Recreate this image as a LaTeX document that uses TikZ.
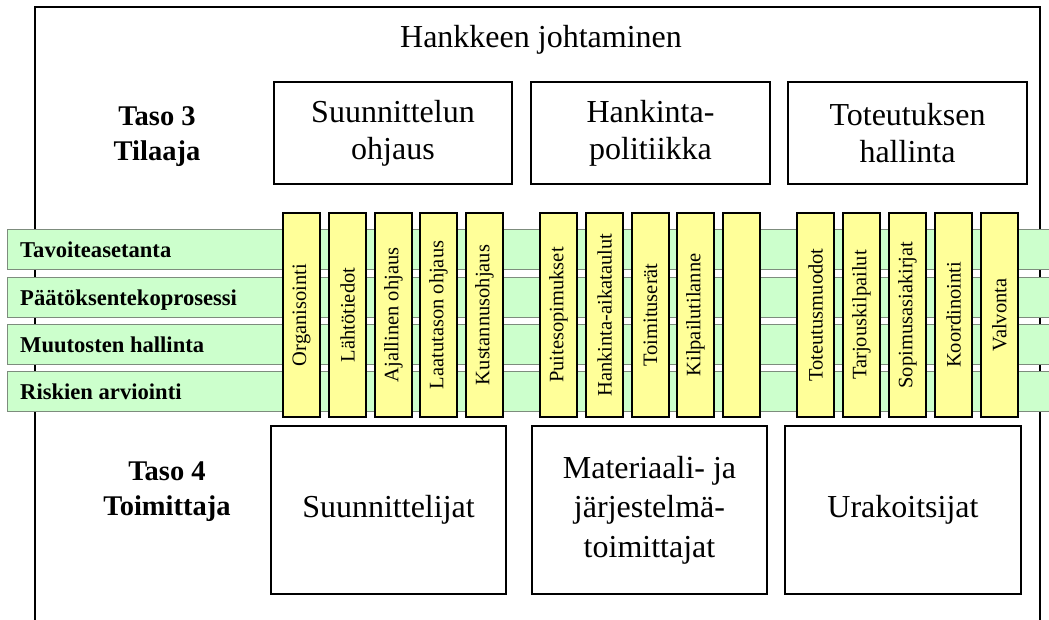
\documentclass[tikz,border=0pt]{standalone}
\usepackage{fontspec}
\setmainfont{Liberation Serif}
\definecolor{bandfill}{RGB}{204,255,204}
\definecolor{bandline}{RGB}{125,140,125}
\definecolor{barfill}{RGB}{255,255,153}
\begin{document}
\begin{tikzpicture}[x=1pt,y=-1pt,
  frame/.style={draw=black,line width=1.4pt,fill=white,rectangle,inner sep=0pt},
  title/.style={font=\fontsize{32}{38}\selectfont,inner sep=0pt},
  topbox/.style={draw=black,line width=1.1pt,fill=white,rectangle,inner sep=0pt,
    align=center,font=\fontsize{32}{37}\selectfont,minimum height=102pt},
  botbox/.style={draw=black,line width=1.1pt,fill=white,rectangle,inner sep=0pt,
    align=center,font=\fontsize{32}{39.5}\selectfont,minimum height=168pt},
  level/.style={align=center,font=\fontsize{28.5}{35}\selectfont\bfseries,inner sep=0pt},
  band/.style={draw=bandline,line width=0.9pt,fill=bandfill,rectangle,inner sep=0pt,
    minimum width=1053pt,minimum height=40pt},
  bandlabel/.style={font=\fontsize{22.6}{26}\selectfont\bfseries,inner sep=0pt,anchor=base west},
  bar/.style={draw=black,line width=1.1pt,fill=barfill,rectangle,inner sep=0pt,rotate=90,
    minimum width=204pt,minimum height=37pt,font=\fontsize{20.5}{24}\selectfont}
]
\useasboundingbox (0,0) rectangle (1049,619);
\fill[white] (0,0) rectangle (1049,619);

% outer frame (its lower edge lies below the page)
\node[frame,minimum width=1005pt,minimum height=640pt] (frame) at (537.5,327) {};
\node[title,anchor=base] (head) at (541,47) {Hankkeen johtaminen};

% level captions
\node[level] (taso3) at (157,137) {Taso 3\\Tilaaja};
\node[level] (taso4) at (167,491.5) {Taso 4\\Toimittaja};

% client-level boxes
\node[topbox,minimum width=238pt] (suo) at (393,133) {Suunnittelun\\ohjaus};
\node[topbox,minimum width=239pt] (hpo) at (650.5,133) {Hankinta-\\politiikka};
\node[topbox,minimum width=239pt] (toh) at (907.5,133) {Toteutuksen\\hallinta};

% horizontal process bands
\node[band] (band1) at (533.5,249) {};
\node[band] (band2) at (533.5,297) {};
\node[band] (band3) at (533.5,344) {};
\node[band] (band4) at (533.5,391) {};
\node[bandlabel] (bl1) at (20,257.5) {Tavoiteasetanta};
\node[bandlabel] (bl2) at (20,305.5) {Päätöksentekoprosessi};
\node[bandlabel] (bl3) at (20,352.5) {Muutosten hallinta};
\node[bandlabel] (bl4) at (20,399.5) {Riskien arviointi};

% vertical task bars
\foreach \x/\t [count=\i] in {
  301.5/Organisointi, 347.5/Lähtötiedot, 393.5/Ajallinen ohjaus,
  438.5/Laatutason ohjaus, 484.5/Kustannusohjaus,
  558.5/Puitesopimukset, 604.5/Hankinta-aikataulut, 650.5/Toimituserät,
  695.5/Kilpailutilanne, 741.5/{},
  815.5/Toteutusmuodot, 861.5/Tarjouskilpailut, 907.5/Sopimusasiakirjat,
  953.5/Koordinointi, 999.5/Valvonta}
  \node[bar] (bar\i) at (\x,315) {\t};

% supplier-level boxes
\node[botbox,minimum width=235pt] (suu) at (388.5,510) {Suunnittelijat};
\node[botbox,minimum width=235pt] (mat) at (649.5,510) {Materiaali- ja\\järjestelmä-\\toimittajat};
\node[botbox,minimum width=236pt] (ura) at (903,510) {Urakoitsijat};
\end{tikzpicture}
\end{document}
